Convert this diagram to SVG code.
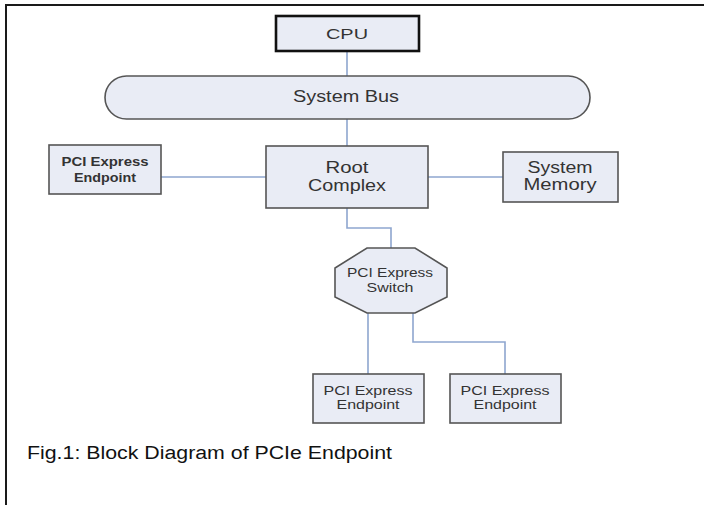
<svg xmlns="http://www.w3.org/2000/svg" width="704" height="505" viewBox="0 0 704 505">
<style>
.n{fill:#e9ecf5;stroke:#555;stroke-width:1.6}
.cpu{fill:#e9ecf5;stroke:#111;stroke-width:2.6}
.t{font-family:"Liberation Sans",Arial,sans-serif;fill:#333;text-anchor:middle}
.c{fill:none;stroke:#8ea6cf;stroke-width:1.6}
</style>
<rect width="704" height="505" fill="#fff"/>
<path d="M6,505 V5 H704" fill="none" stroke="#1a1a1a" stroke-width="2"/>
<g id="connectors">
<path class="c" d="M347,51 V76"/>
<path class="c" d="M347,119 V146"/>
<path class="c" d="M161,177 H266"/>
<path class="c" d="M428,177 H503"/>
<path class="c" d="M347,208 V228 H391 V248"/>
<path class="c" d="M368,313 V374"/>
<path class="c" d="M413,313 V342 H505 V374"/>
</g>
<g id="cpu">
<rect class="cpu" x="276" y="16" width="143" height="35"/>
<text class="t" x="347" y="39" font-size="15" textLength="42" lengthAdjust="spacingAndGlyphs">CPU</text>
</g>
<g id="system-bus">
<rect class="n" x="105" y="76" width="485" height="43" rx="21.5"/>
<text class="t" x="346" y="102" font-size="16" textLength="106" lengthAdjust="spacingAndGlyphs">System Bus</text>
</g>
<g id="root-complex">
<rect class="n" x="266" y="146" width="162" height="62"/>
<text class="t" x="347" y="173" font-size="16" textLength="43" lengthAdjust="spacingAndGlyphs">Root</text>
<text class="t" x="347" y="191" font-size="16" textLength="78" lengthAdjust="spacingAndGlyphs">Complex</text>
</g>
<g id="endpoint-left">
<rect class="n" x="49" y="145" width="112" height="49"/>
<text class="t" x="105" y="166" font-size="13" font-weight="bold" textLength="87" lengthAdjust="spacingAndGlyphs">PCI Express</text>
<text class="t" x="105" y="182" font-size="13" font-weight="bold" textLength="62" lengthAdjust="spacingAndGlyphs">Endpoint</text>
</g>
<g id="system-memory">
<rect class="n" x="503" y="152" width="115" height="50"/>
<text class="t" x="560" y="173" font-size="16" textLength="65" lengthAdjust="spacingAndGlyphs">System</text>
<text class="t" x="560" y="190" font-size="16" textLength="73" lengthAdjust="spacingAndGlyphs">Memory</text>
</g>
<g id="switch">
<polygon class="n" points="367,248 415,248 447,268 447,297 415,313 367,313 335,297 335,268"/>
<text class="t" x="390" y="277" font-size="13" textLength="86" lengthAdjust="spacingAndGlyphs">PCI Express</text>
<text class="t" x="390" y="292" font-size="13" textLength="47" lengthAdjust="spacingAndGlyphs">Switch</text>
</g>
<g id="endpoint-1">
<rect class="n" x="313" y="374" width="111" height="49"/>
<text class="t" x="368" y="395" font-size="13" textLength="89" lengthAdjust="spacingAndGlyphs">PCI Express</text>
<text class="t" x="368" y="409" font-size="13" textLength="63" lengthAdjust="spacingAndGlyphs">Endpoint</text>
</g>
<g id="endpoint-2">
<rect class="n" x="450" y="374" width="111" height="49"/>
<text class="t" x="505" y="395" font-size="13" textLength="89" lengthAdjust="spacingAndGlyphs">PCI Express</text>
<text class="t" x="505" y="409" font-size="13" textLength="63" lengthAdjust="spacingAndGlyphs">Endpoint</text>
</g>
<text x="27" y="459" font-family="'Liberation Sans',Arial,sans-serif" font-size="18" fill="#111" textLength="365" lengthAdjust="spacingAndGlyphs">Fig.1: Block Diagram of PCIe Endpoint</text>
</svg>
